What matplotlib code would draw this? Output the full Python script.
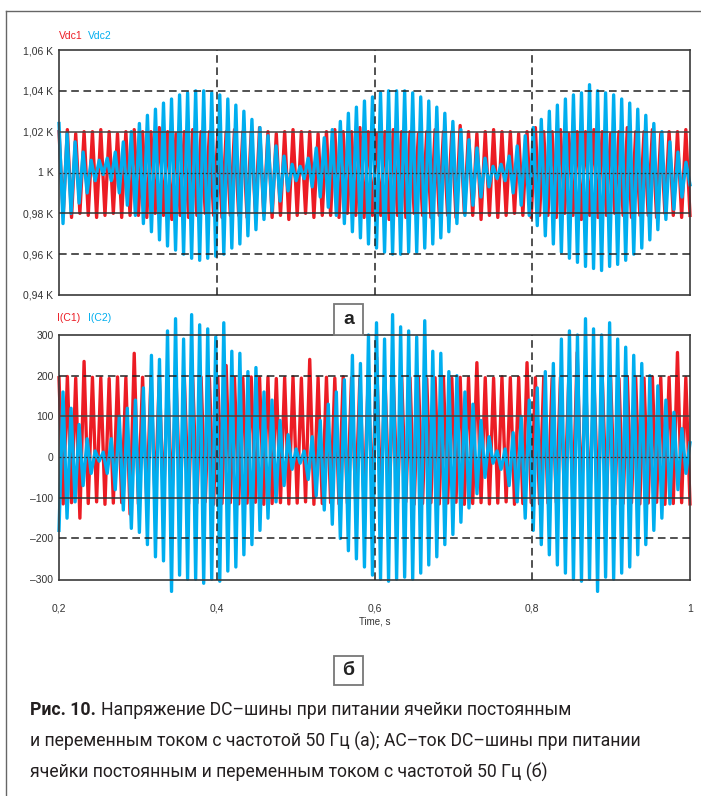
import numpy as np
import matplotlib.pyplot as plt

# Vdc1 / Vdc2, kV (peaks and troughs of each cycle)
vdc1_max = [1.020, 1.021, 1.019, 1.020, 1.020, 1.021, 1.020, 1.019, 1.020, 1.021,
            1.020, 1.020, 1.022, 1.020, 1.019, 1.020, 1.021, 1.020, 1.020, 1.019,
            1.020, 1.021, 1.020, 1.020, 1.022, 1.020, 1.019, 1.020, 1.021, 1.020,
            1.020, 1.019, 1.020, 1.021, 1.020, 1.020, 1.022, 1.020, 1.019, 1.020,
            1.021, 1.020, 1.020, 1.019, 1.020, 1.021, 1.020, 1.020, 1.023, 1.020,
            1.019, 1.020, 1.021, 1.020, 1.020, 1.019, 1.020, 1.022, 1.020, 1.020,
            1.021, 1.019, 1.020, 1.020, 1.021, 1.020, 1.019, 1.020, 1.022, 1.020,
            1.020, 1.021, 1.019, 1.020, 1.020, 1.021]
vdc1_min = [0.979, 0.978, 0.980, 0.979, 0.978, 0.979, 0.980, 0.978, 0.979, 0.979,
            0.978, 0.980, 0.979, 0.977, 0.979, 0.978, 0.979, 0.980, 0.979, 0.978,
            0.979, 0.979, 0.978, 0.980, 0.979, 0.978, 0.979, 0.977, 0.979, 0.980,
            0.978, 0.979, 0.979, 0.978, 0.980, 0.979, 0.978, 0.979, 0.979, 0.977,
            0.979, 0.978, 0.980, 0.979, 0.978, 0.979, 0.979, 0.978, 0.980, 0.979,
            0.977, 0.979, 0.978, 0.979, 0.980, 0.979, 0.978, 0.979, 0.979, 0.978,
            0.980, 0.979, 0.977, 0.979, 0.978, 0.979, 0.980, 0.979, 0.978, 0.979,
            0.979, 0.978, 0.980, 0.979, 0.978, 0.979]
vdc2_max = [1.024, 1.019, 1.015, 1.010, 1.006, 1.006, 1.007, 1.010, 1.015, 1.020,
            1.024, 1.028, 1.031, 1.034, 1.036, 1.038, 1.039, 1.040, 1.040, 1.039,
            1.038, 1.036, 1.033, 1.030, 1.026, 1.022, 1.018, 1.013, 1.008, 1.004,
            1.003, 1.007, 1.012, 1.017, 1.021, 1.025, 1.029, 1.032, 1.035, 1.037,
            1.039, 1.040, 1.040, 1.040, 1.039, 1.037, 1.035, 1.032, 1.029, 1.025,
            1.021, 1.016, 1.012, 1.007, 1.003, 1.004, 1.008, 1.013, 1.018, 1.022,
            1.026, 1.030, 1.033, 1.036, 1.038, 1.039, 1.043, 1.040, 1.039, 1.038,
            1.036, 1.034, 1.031, 1.028, 1.024, 1.020, 1.015, 1.010, 1.005]
vdc2_min = [0.975, 0.980, 0.985, 0.990, 0.996, 0.999, 0.996, 0.990, 0.984, 0.979,
            0.975, 0.971, 0.967, 0.964, 0.962, 0.960, 0.958, 0.957, 0.958, 0.959,
            0.960, 0.963, 0.965, 0.969, 0.972, 0.977, 0.981, 0.986, 0.991, 0.996,
            0.997, 0.993, 0.988, 0.983, 0.979, 0.975, 0.971, 0.968, 0.965, 0.963,
            0.961, 0.960, 0.960, 0.961, 0.961, 0.963, 0.965, 0.968, 0.971, 0.975,
            0.979, 0.984, 0.988, 0.993, 0.997, 0.996, 0.990, 0.984, 0.979, 0.974,
            0.969, 0.965, 0.961, 0.958, 0.956, 0.954, 0.953, 0.952, 0.954, 0.955,
            0.957, 0.960, 0.963, 0.967, 0.972, 0.977, 0.982, 0.988, 0.994]

# I(C1) / I(C2), A
ic1_max = [195, 198, 194, 235, 196, 195, 193, 197, 195, 255,
           196, 194, 197, 195, 196, 193, 195, 197, 194, 196,
           225, 195, 194, 197, 195, 196, 193, 195, 197, 194,
           240, 195, 196, 194, 197, 195, 193, 196, 245, 195,
           194, 197, 195, 196, 193, 195, 197, 194, 196, 195,
           232, 195, 194, 197, 195, 196, 232, 195, 197, 194,
           196, 195, 257, 196, 194, 197, 195, 193, 196, 195,
           194, 197, 195, 196, 257, 195]
ic1_min = [-115, -112, -150, -114, -110, -116, -113, -112, -140, -115,
           -113, -111, -116, -114, -112, -115, -113, -110, -116, -114,
           -112, -115, -113, -111, -116, -114, -112, -115, -113, -110,
           -116, -114, -112, -115, -113, -111, -116, -114, -112, -115,
           -113, -110, -116, -114, -112, -115, -113, -111, -116, -114,
           -112, -115, -113, -110, -116, -114, -112, -115, -113, -111,
           -116, -114, -112, -115, -113, -110, -116, -114, -112, -115,
           -113, -111, -116, -114, -112, -115]
ic2_max = [160, 120, 80, 45, 15, 12, 45, 100, 120, 140,
           170, 250, 240, 310, 340, 290, 350, 325, 315, 295,
           330, 260, 255, 210, 220, 160, 140, 90, 55, 20,
           15, 50, 90, 130, 160, 190, 250, 230, 300, 330,
           290, 350, 320, 310, 295, 335, 260, 255, 210, 200,
           160, 130, 90, 50, 15, 20, 60, 100, 140, 170,
           210, 230, 290, 310, 300, 340, 315, 300, 330, 290,
           270, 250, 230, 200, 175, 140, 110, 70, 35]
ic2_min = [-180, -150, -110, -70, -40, -10, -40, -80, -130, -175,
           -185, -215, -245, -255, -330, -290, -300, -300, -310, -300,
           -305, -280, -270, -240, -215, -180, -150, -110, -70, -30,
           -15, -55, -95, -130, -165, -200, -230, -250, -270, -290,
           -300, -305, -300, -295, -300, -285, -265, -245, -215, -190,
           -160, -125, -90, -50, -15, -30, -70, -110, -150, -180,
           -215, -240, -265, -285, -300, -305, -300, -330, -295, -300,
           -285, -270, -240, -215, -180, -150, -115, -80, -40]

x_ticks = [0.2, 0.4, 0.6, 0.8, 1.0]
x_labels = ["0,2", "0,4", "0,6", "0,8", "1"]
v_ticks = [0.94, 0.96, 0.98, 1.00, 1.02, 1.04, 1.06]
v_labels = ["0,94 K", "0,96 K", "0,98 K", "1 K", "1,02 K", "1,04 K", "1,06 K"]
i_ticks = [-300, -200, -100, 0, 100, 200, 300]
i_labels = ["\u2013300", "\u2013200", "\u2013100", "0", "100", "200", "300"]

caption_bold = "Рис. 10."
caption_lines = ["Напряжение DC\u2013шины при питании ячейки постоянным",
                 "и переменным током с частотой 50 Гц (а); АС\u2013ток DC\u2013шины при питании",
                 "ячейки постоянным и переменным током с частотой 50 Гц (б)"]

RED = "#ec1c24"
BLUE = "#00aeef"
W, H = 701, 796


def zigzag(first, second):
    v = np.empty(len(first) + len(second))
    v[0::2] = first
    v[1::2] = second
    t = np.linspace(0.2, 1.0, len(v))
    return t, v


fig = plt.figure(figsize=(W / 100, H / 100), dpi=100)
fig.patch.set_facecolor("white")

ax1 = fig.add_axes([59 / W, 1 - 295 / H, 631 / W, 245 / H])
ax2 = fig.add_axes([59 / W, 1 - 580 / H, 631 / W, 245 / H])

t, v = zigzag(vdc1_max, vdc1_min)
ax1.plot(t, v, color=RED, lw=2.4, clip_on=False, zorder=2)
t, v = zigzag(vdc2_max, vdc2_min)
ax1.plot(t, v, color=BLUE, lw=2.4, clip_on=False, zorder=2.2)

t, v = zigzag(ic1_max, ic1_min)
ax2.plot(t, v, color=RED, lw=2.4, clip_on=False, zorder=2)
t, v = zigzag(ic2_min, ic2_max)
ax2.plot(t, v, color=BLUE, lw=2.4, clip_on=False, zorder=2.2)

ax1.set_ylim(0.94, 1.06)
ax2.set_ylim(-302, 300)

for ax, ticks, labels in [(ax1, v_ticks, v_labels), (ax2, i_ticks, i_labels)]:
    ax.set_xlim(0.2, 1.0)
    ax.set_yticks(ticks)
    ax.set_yticklabels(labels)
    ax.set_xticks(x_ticks)
    ax.tick_params(length=0, labelsize=7.5, colors="#333333", pad=4)
    for sp in ax.spines.values():
        sp.set_color("#3a3a3a")
        sp.set_linewidth(1.2)
    # grid: inner lines solid, centre dotted, outer dashed
    ax.axhline(ticks[2], color="#333333", lw=1.1, zorder=3)
    ax.axhline(ticks[4], color="#444444", lw=1.1, zorder=3)
    ax.axhline(ticks[3], color="#333333", lw=0.9, ls=(0, (1.5, 1.5)), zorder=3)
    for y in (ticks[1], ticks[5]):
        ax.axhline(y, color="#222222", lw=1.1, ls=(0, (5, 3)), zorder=3)
    for x in x_ticks[1:-1]:
        ax.axvline(x, color="#222222", lw=1.1, ls=(0, (5, 3)), zorder=3)

ax1.set_xticklabels([])
ax2.set_xticklabels(x_labels)
ax2.tick_params(axis="x", pad=17)
for lab in ax1.get_yticklabels() + ax2.get_yticklabels() + ax2.get_xticklabels():
    lab.set_family("Liberation Sans")

fig.text(375 / W, 1 - 622 / H, "Time, s", ha="center", va="center",
         fontsize=7, color="#333333", family="Liberation Sans")

# legends
fig.text(59 / W, 1 - 36 / H, "Vdc1", color=RED, fontsize=7.5, va="center", family="Liberation Sans")
fig.text(88 / W, 1 - 36 / H, "Vdc2", color=BLUE, fontsize=7.5, va="center", family="Liberation Sans")
fig.text(57 / W, 1 - 318 / H, "I(C1)", color=RED, fontsize=7.5, va="center", family="Liberation Sans")
fig.text(88 / W, 1 - 318 / H, "I(C2)", color=BLUE, fontsize=7.5, va="center", family="Liberation Sans")

# panel labels
for letter, y0, y1 in [("а", 304, 335), ("б", 656, 685)]:
    fig.patches.append(plt.Rectangle((334 / W, 1 - y1 / H), 29 / W, (y1 - y0) / H,
                                     transform=fig.transFigure, facecolor="white",
                                     edgecolor="#777777", lw=1.3, zorder=5))
    fig.text(348.5 / W, 1 - (y0 + y1) / 2 / H, letter, ha="center", va="center",
             fontsize=14, fontweight="bold", color="#222222", family="Liberation Sans", zorder=6)

# frame lines
fig.add_artist(plt.Line2D([6 / W, 6 / W], [0, 1 - 11 / H], color="#666666", lw=1.0))
fig.add_artist(plt.Line2D([6 / W, 1], [1 - 11 / H, 1 - 11 / H], color="#666666", lw=1.0))

# caption: size chosen so that the second line is ~615 px wide as in the reference
cap_font = "Roboto"
r = fig.canvas.get_renderer()
probe = fig.text(0, 0, caption_lines[1], fontsize=14, family=cap_font)
cap_size = 14 * 615 / probe.get_window_extent(renderer=r).width
probe.remove()

t1 = fig.text(30 / W, 1 - 710 / H, caption_bold, fontsize=cap_size, fontweight="bold",
              color="#231f20", va="center", family=cap_font)
bb = t1.get_window_extent(renderer=r)
fig.text((bb.x1 + 5) / W, 1 - 710 / H, caption_lines[0],
         fontsize=cap_size, color="#231f20", va="center", family=cap_font)
fig.text(30 / W, 1 - 741 / H, caption_lines[1],
         fontsize=cap_size, color="#231f20", va="center", family=cap_font)
fig.text(30 / W, 1 - 772 / H, caption_lines[2],
         fontsize=cap_size, color="#231f20", va="center", family=cap_font)

fig.savefig("out.png", dpi=100)
